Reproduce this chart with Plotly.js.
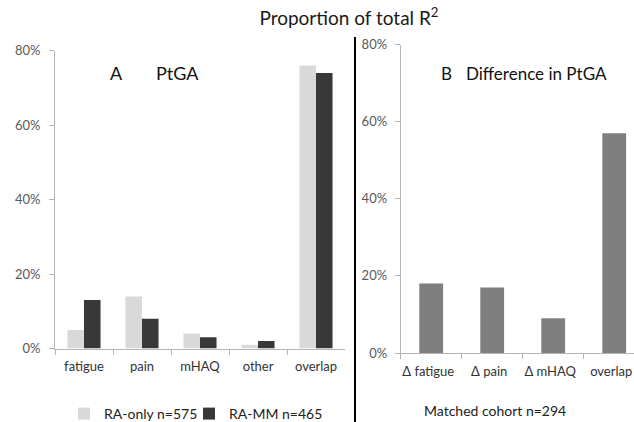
<!DOCTYPE html>
<html>
<head>
<meta charset="utf-8">
<script src="https://cdn.plot.ly/plotly-3.0.1.min.js"></script>
<style>html,body{margin:0;padding:0;background:#fff;}#chart{width:634px;height:422px;}</style>
</head>
<body>
<div id="chart"></div>
<script>
// Panel A data
const catsA = ["fatigue", "pain", "mHAQ", "other", "overlap"];
const raOnly = [5, 14, 4, 1, 76];
const raMM = [13, 8, 3, 2, 74];
const nameRaOnly = "RA-only n=575";
const nameRaMM = "RA-MM n=465";
// Panel B data
const catsB = ["\u0394 fatigue", "\u0394 pain", "\u0394 mHAQ", "overlap"];
const diffB = [18, 17, 9, 57];
const yTicks = [0, 20, 40, 60, 80];
const yTickText = ["0%", "20%", "40%", "60%", "80%"];

const W = 634, H = 422;
const px = v => v / W;
const py = v => 1 - v / H;
const FONT = "Lato, 'Liberation Sans', sans-serif";
const axisGray = "#b5b5b5";
const tickTextColor = "#595959";

const traces = [
  {type: "bar", x: catsA, y: raOnly, name: nameRaOnly, marker: {color: "#d9d9d9"}, xaxis: "x", yaxis: "y", legend: "legend"},
  {type: "bar", x: catsA, y: raMM, name: nameRaMM, marker: {color: "#383838"}, xaxis: "x", yaxis: "y", legend: "legend2"},
  {type: "bar", x: catsB, y: diffB, name: "Matched cohort n=294", marker: {color: "#7f7f7f"}, width: 0.39, showlegend: false, xaxis: "x2", yaxis: "y2"}
];

const xBase = {
  type: "category", showline: true, linecolor: axisGray, linewidth: 1,
  ticks: "outside", tickson: "boundaries", ticklen: 5, tickcolor: axisGray,
  showgrid: false, zeroline: false, fixedrange: true, automargin: false, tickangle: 0,
  ticklabelstandoff: 6,
  tickfont: {family: FONT, size: 13, color: "#333"}
};
const yBase = {
  range: [0, 80], tickvals: yTicks, ticktext: yTickText,
  showline: true, linecolor: axisGray, linewidth: 1,
  ticks: "outside", ticklen: 5, tickcolor: axisGray,
  showgrid: false, zeroline: false, fixedrange: true, automargin: false,
  tickfont: {family: FONT, size: 13, color: tickTextColor}
};
const legendBase = {orientation: "h", xanchor: "left", y: py(414), yanchor: "middle",
  font: {family: FONT, size: 14, color: "#222"}, bgcolor: "rgba(0,0,0,0)"};

const layout = {
  width: W, height: H,
  margin: {l: 0, r: 0, t: 0, b: 0, autoexpand: false},
  paper_bgcolor: "#fff", plot_bgcolor: "#fff",
  font: {family: FONT, color: "#222"},
  barmode: "group", bargap: 0.43, bargroupgap: 0,
  title: {text: "Proportion of total R<sup>2</sup>", x: 349 / W, xanchor: "center", y: py(18), yanchor: "middle",
    font: {family: FONT, size: 19, color: "#1a1a1a"}},
  xaxis: Object.assign({}, xBase, {domain: [px(55), px(345)], anchor: "y", range: [-0.5, 4.5]}),
  yaxis: Object.assign({}, yBase, {domain: [py(348.5), py(50.7)], anchor: "x", ticklabelstandoff: 6}),
  xaxis2: Object.assign({}, xBase, {domain: [px(400.7), 1], anchor: "y2", range: [-0.5, (634 - 400.7) / 61 - 0.5], ticklabelshift: -3}),
  yaxis2: Object.assign({}, yBase, {domain: [py(353), py(44.5)], anchor: "x2", ticklabelstandoff: 5}),
  showlegend: true,
  legend: Object.assign({}, legendBase, {x: px(64)}),
  legend2: Object.assign({}, legendBase, {x: px(189)}),
  shapes: [
    {type: "line", xref: "paper", yref: "paper", x0: px(355), x1: px(355), y0: py(37), y1: 0,
      line: {color: "#000", width: 2}}
  ],
  annotations: [
    {text: "A", xref: "paper", yref: "paper", x: px(116), y: py(73), xanchor: "center", yanchor: "middle", showarrow: false,
      font: {family: FONT, size: 18, color: "#111"}},
    {text: "PtGA", xref: "paper", yref: "paper", x: px(177.5), y: py(73), xanchor: "center", yanchor: "middle", showarrow: false,
      font: {family: FONT, size: 18, color: "#111"}},
    {text: "B", xref: "paper", yref: "paper", x: px(447), y: py(73), xanchor: "center", yanchor: "middle", showarrow: false,
      font: {family: FONT, size: 17, color: "#111"}},
    {text: "Difference in PtGA", xref: "paper", yref: "paper", x: px(536.5), y: py(73), xanchor: "center", yanchor: "middle", showarrow: false,
      font: {family: FONT, size: 17, color: "#111"}},
    {text: "Matched cohort n=294", xref: "paper", yref: "paper", x: px(495), y: py(410), xanchor: "center", yanchor: "middle", showarrow: false,
      font: {family: FONT, size: 14, color: "#222"}}
  ]
};

Plotly.newPlot("chart", traces, layout, {staticPlot: true, displayModeBar: false});
</script>
</body>
</html>
